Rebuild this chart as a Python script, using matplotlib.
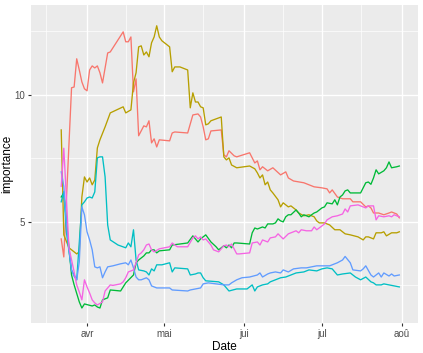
import numpy as np
import matplotlib
matplotlib.use("Agg")
import matplotlib.pyplot as plt

plt.rcParams["font.family"] = ["Liberation Sans", "DejaVu Sans"]

# day offsets counted from 22 March 2020
start = np.datetime64("2020-03-22")

red_days = [0, 1, 4, 5, 6, 7, 8, 9, 10, 11, 12, 13, 14, 15, 16, 18, 19, 24, 25, 26, 27, 28, 29, 30,
            32, 33, 34, 35, 36, 37, 38, 42, 43, 44, 49, 51, 53, 54, 55, 56, 57, 58, 62, 63, 64, 65,
            67, 68, 73, 75, 76, 77, 78, 80, 82, 85, 87, 88, 90, 94, 98, 101, 103, 104, 105, 107,
            109, 112, 113, 116, 118, 119, 120, 121, 123, 125, 127, 128, 130, 131]
red_vals = [4.33, 3.62, 10.28, 10.31, 11.42, 10.98, 10.51, 10.24, 10.16, 10.98, 11.14, 11.06, 11.14,
            10.87, 10.47, 11.65, 11.69, 12.48, 12.09, 12.09, 12.28, 10.12, 10.63, 8.39, 8.78, 8.74,
            8.98, 8.11, 8.27, 7.95, 8.23, 8.19, 8.50, 8.54, 8.50, 9.21, 9.25, 9.13, 8.74, 8.23, 8.27,
            8.58, 8.62, 7.64, 7.56, 7.80, 7.60, 7.56, 7.72, 7.32, 7.40, 7.05, 7.17, 7.01, 7.13, 6.85,
            6.97, 6.73, 6.61, 6.54, 6.38, 6.34, 6.30, 6.14, 6.26, 5.98, 5.91, 5.91, 5.79, 5.79, 5.59,
            5.63, 5.55, 5.35, 5.35, 5.28, 5.35, 5.39, 5.31, 5.16]

olive_days = [0, 1, 3, 4, 6, 7, 8, 9, 10, 11, 12, 13, 14, 15, 17, 19, 24, 25, 27, 28, 29, 30, 31, 32,
              33, 34, 35, 36, 37, 38, 39, 42, 43, 44, 46, 49, 50, 51, 52, 53, 54, 55, 56, 57, 58, 62,
              63, 64, 65, 66, 68, 73, 75, 76, 77, 78, 79, 80, 81, 82, 84, 85, 86, 88, 89, 91, 92, 94,
              96, 98, 99, 100, 102, 104, 106, 108, 110, 112, 115, 117, 118, 119, 121, 122, 124, 125,
              126, 128, 130, 131]
olive_vals = [8.62, 4.49, 3.98, 3.90, 3.74, 3.82, 5.98, 6.77, 6.57, 6.73, 6.46, 6.65, 7.91, 8.23, 8.74,
              9.29, 9.53, 9.29, 9.41, 10.47, 10.87, 11.89, 11.93, 11.57, 11.69, 11.50, 12.05, 12.28,
              12.72, 12.28, 12.13, 11.89, 10.91, 11.10, 11.10, 10.98, 9.49, 10.08, 9.72, 9.72, 9.53,
              9.49, 8.82, 8.86, 8.98, 9.13, 7.56, 7.44, 7.52, 7.24, 7.13, 7.20, 7.09, 6.93, 6.73, 6.85,
              6.46, 6.57, 6.26, 6.14, 5.87, 5.59, 5.75, 5.59, 5.63, 5.47, 5.35, 5.24, 5.28, 5.20, 5.04,
              4.96, 4.96, 4.88, 4.69, 4.69, 4.53, 4.49, 4.41, 4.29, 4.41, 4.41, 4.33, 4.57, 4.57, 4.61,
              4.45, 4.57, 4.57, 4.61]

green_days = [0, 1, 3, 4, 5, 7, 8, 9, 12, 13, 14, 15, 16, 18, 19, 23, 25, 28, 29, 30, 32, 33, 34, 35,
              36, 37, 38, 42, 43, 49, 51, 52, 53, 54, 56, 58, 60, 61, 63, 64, 65, 66, 67, 68, 73, 74,
              75, 76, 78, 79, 80, 82, 83, 84, 85, 86, 87, 88, 89, 91, 92, 93, 94, 96, 97, 98, 99, 101,
              102, 103, 105, 106, 107, 108, 109, 110, 111, 112, 116, 117, 118, 119, 120, 121, 122,
              123, 125, 126, 127, 128, 130, 131]
green_vals = [5.98, 6.14, 3.98, 2.91, 2.52, 1.85, 1.61, 1.77, 1.69, 1.73, 1.65, 1.61, 1.93, 2.01, 2.32,
              2.28, 2.60, 2.91, 3.39, 3.50, 3.66, 3.78, 3.78, 3.90, 3.90, 3.78, 3.86, 3.90, 4.09, 4.17,
              4.45, 4.33, 4.21, 4.33, 4.49, 4.21, 4.02, 3.90, 4.06, 3.98, 4.09, 3.98, 4.17, 4.17, 4.13,
              4.57, 4.76, 4.72, 4.80, 4.76, 4.92, 4.92, 4.96, 5.12, 5.04, 5.00, 5.20, 5.28, 5.28, 5.47,
              5.35, 5.20, 5.28, 5.20, 5.28, 5.35, 5.39, 5.55, 5.59, 5.75, 5.71, 5.87, 5.67, 5.98, 6.06,
              6.22, 6.26, 6.14, 6.14, 6.34, 6.54, 6.57, 6.48, 6.73, 7.05, 6.89, 7.01, 7.13, 7.36, 7.13,
              7.17, 7.20]

teal_days = [0, 1, 2, 4, 6, 8, 9, 10, 11, 12, 13, 14, 15, 16, 17, 18, 19, 22, 25, 26, 27, 28, 29, 30,
             32, 33, 34, 35, 36, 37, 39, 42, 43, 44, 49, 50, 52, 53, 54, 55, 56, 61, 63, 64, 65, 68,
             72, 74, 75, 76, 78, 80, 81, 83, 85, 87, 89, 91, 94, 96, 99, 101, 103, 105, 107, 109,
             112, 114, 116, 118, 120, 121, 122, 124, 125, 127, 129, 131]
teal_vals = [5.79, 6.20, 4.60, 3.10, 2.72, 5.67, 5.79, 5.94, 5.98, 5.94, 6.18, 7.52, 7.56, 7.56, 6.77,
             4.88, 4.29, 4.09, 3.98, 4.17, 4.02, 4.69, 3.50, 3.11, 3.07, 3.03, 2.91, 3.15, 3.07, 3.31,
             3.31, 3.39, 3.03, 3.19, 3.15, 2.91, 2.95, 2.99, 2.99, 2.80, 2.68, 2.64, 2.52, 2.40, 2.28,
             2.36, 2.36, 2.52, 2.28, 2.44, 2.52, 2.56, 2.64, 2.72, 2.80, 2.83, 2.91, 2.99, 3.03, 3.11,
             3.07, 3.15, 3.19, 3.15, 2.91, 2.95, 2.99, 2.83, 2.72, 2.83, 2.64, 2.60, 2.52, 2.52, 2.56,
             2.52, 2.48, 2.44]

blue_days = [0, 1, 2, 3, 4, 5, 6, 7, 8, 9, 10, 11, 12, 13, 14, 15, 16, 17, 18, 20, 23, 25, 26, 27,
             28, 29, 30, 31, 33, 34, 35, 37, 42, 43, 49, 50, 52, 54, 55, 57, 60, 63, 65, 66, 68, 70,
             73, 76, 77, 78, 80, 81, 83, 85, 86, 88, 90, 93, 95, 97, 99, 104, 107, 109, 110, 112,
             113, 116, 117, 118, 120, 121, 123, 124, 125, 127, 128, 129, 131]
blue_vals = [6.97, 6.40, 4.96, 3.90, 3.10, 2.85, 2.72, 3.43, 5.59, 5.28, 4.61, 4.29, 3.90, 3.23, 3.19,
             3.23, 2.80, 3.03, 3.23, 3.27, 3.35, 3.39, 3.31, 3.50, 3.19, 2.83, 2.72, 2.72, 2.80, 2.72,
             2.48, 2.40, 2.40, 2.32, 2.28, 2.32, 2.36, 2.40, 2.56, 2.60, 2.56, 2.52, 2.52, 2.60, 2.72,
             2.80, 2.83, 2.91, 2.99, 2.83, 2.95, 2.99, 3.03, 2.99, 3.11, 3.03, 3.15, 3.19, 3.19, 3.23,
             3.27, 3.27, 3.39, 3.50, 3.64, 3.39, 3.11, 3.07, 3.15, 3.27, 2.91, 2.83, 2.99, 2.83, 2.99,
             2.87, 2.95, 2.87, 2.91]

pink_days = [0, 1, 2, 3, 5, 6, 7, 8, 9, 10, 11, 12, 13, 14, 16, 17, 18, 19, 20, 23, 24, 25, 26, 28,
             29, 30, 31, 32, 33, 34, 35, 36, 38, 42, 43, 44, 45, 49, 51, 52, 53, 54, 55, 56, 58, 59,
             61, 63, 64, 65, 66, 68, 69, 73, 74, 76, 77, 78, 80, 81, 83, 84, 86, 88, 89, 91, 92, 93,
             95, 97, 98, 99, 101, 102, 103, 105, 107, 109, 110, 111, 112, 115, 116, 118, 119, 121,
             122, 123, 125, 127, 128, 129, 131]
pink_vals = [6.40, 7.90, 5.94, 3.98, 3.03, 2.52, 2.24, 1.93, 2.72, 2.44, 2.20, 1.93, 1.81, 1.73, 1.85,
             2.28, 2.40, 2.52, 2.50, 2.56, 2.64, 2.80, 3.03, 3.11, 3.39, 3.70, 3.78, 3.90, 4.09, 4.13,
             3.90, 3.82, 3.94, 4.02, 4.17, 4.09, 4.02, 4.02, 4.37, 4.45, 4.33, 4.41, 4.29, 4.33, 4.09,
             3.90, 3.82, 4.06, 4.09, 4.02, 4.13, 3.74, 3.74, 3.78, 4.17, 4.21, 4.09, 4.29, 4.21, 4.37,
             4.41, 4.53, 4.33, 4.53, 4.57, 4.65, 4.57, 4.69, 4.65, 4.65, 4.80, 4.69, 4.84, 4.92, 5.08,
             5.20, 5.24, 5.31, 5.51, 5.39, 5.63, 5.67, 5.63, 5.55, 5.63, 5.63, 5.08, 5.24, 5.20, 5.24,
             5.20, 5.28, 5.20]

series = [
    (red_days, red_vals, "#F8766D"),
    (olive_days, olive_vals, "#B79F00"),
    (green_days, green_vals, "#00BA38"),
    (teal_days, teal_vals, "#00BFC4"),
    (blue_days, blue_vals, "#619CFF"),
    (pink_days, pink_vals, "#F564E3"),
]

month_ticks = np.array(["2020-04-01", "2020-05-01", "2020-06-01", "2020-07-01", "2020-08-01"],
                       dtype="datetime64[D]")
month_labels = ["avr", "mai", "jui", "jul", "aoû"]
minor_ticks = np.array(["2020-03-16", "2020-04-16", "2020-05-16", "2020-06-16", "2020-07-16"],
                       dtype="datetime64[h]")

fig = plt.figure(figsize=(4.23, 3.53), dpi=100)
ax = fig.add_axes([0.0733, 0.085, 0.9147, 0.901])
ax.set_facecolor("#EBEBEB")

for days, vals, col in series:
    ax.plot(start + np.array(days, dtype="timedelta64[D]"), vals, color=col, lw=0.95, zorder=3)

ax.set_xlim(np.datetime64("2020-03-10T07"), np.datetime64("2020-08-07T05"))
ax.set_ylim(1.02, 13.54)

ax.set_xticks(month_ticks)
ax.set_xticklabels(month_labels)
ax.set_xticks(minor_ticks, minor=True)
ax.set_yticks([5, 10])
ax.set_yticks([2.5, 7.5, 12.5], minor=True)

ax.grid(which="major", color="white", lw=1.0)
ax.grid(which="minor", color="white", lw=0.5)
ax.set_axisbelow(True)
for s in ax.spines.values():
    s.set_visible(False)

ax.tick_params(which="major", length=2.5, width=0.8, color="#333333",
               labelsize=7, labelcolor="#4D4D4D", pad=2)
ax.tick_params(which="minor", length=0)

ax.set_xlabel("Date", fontsize=8.5, labelpad=1)
ax.set_ylabel("importance", fontsize=8.5)
ax.yaxis.set_label_coords(-0.047, 0.5)

fig.savefig("out.png", dpi=100)
